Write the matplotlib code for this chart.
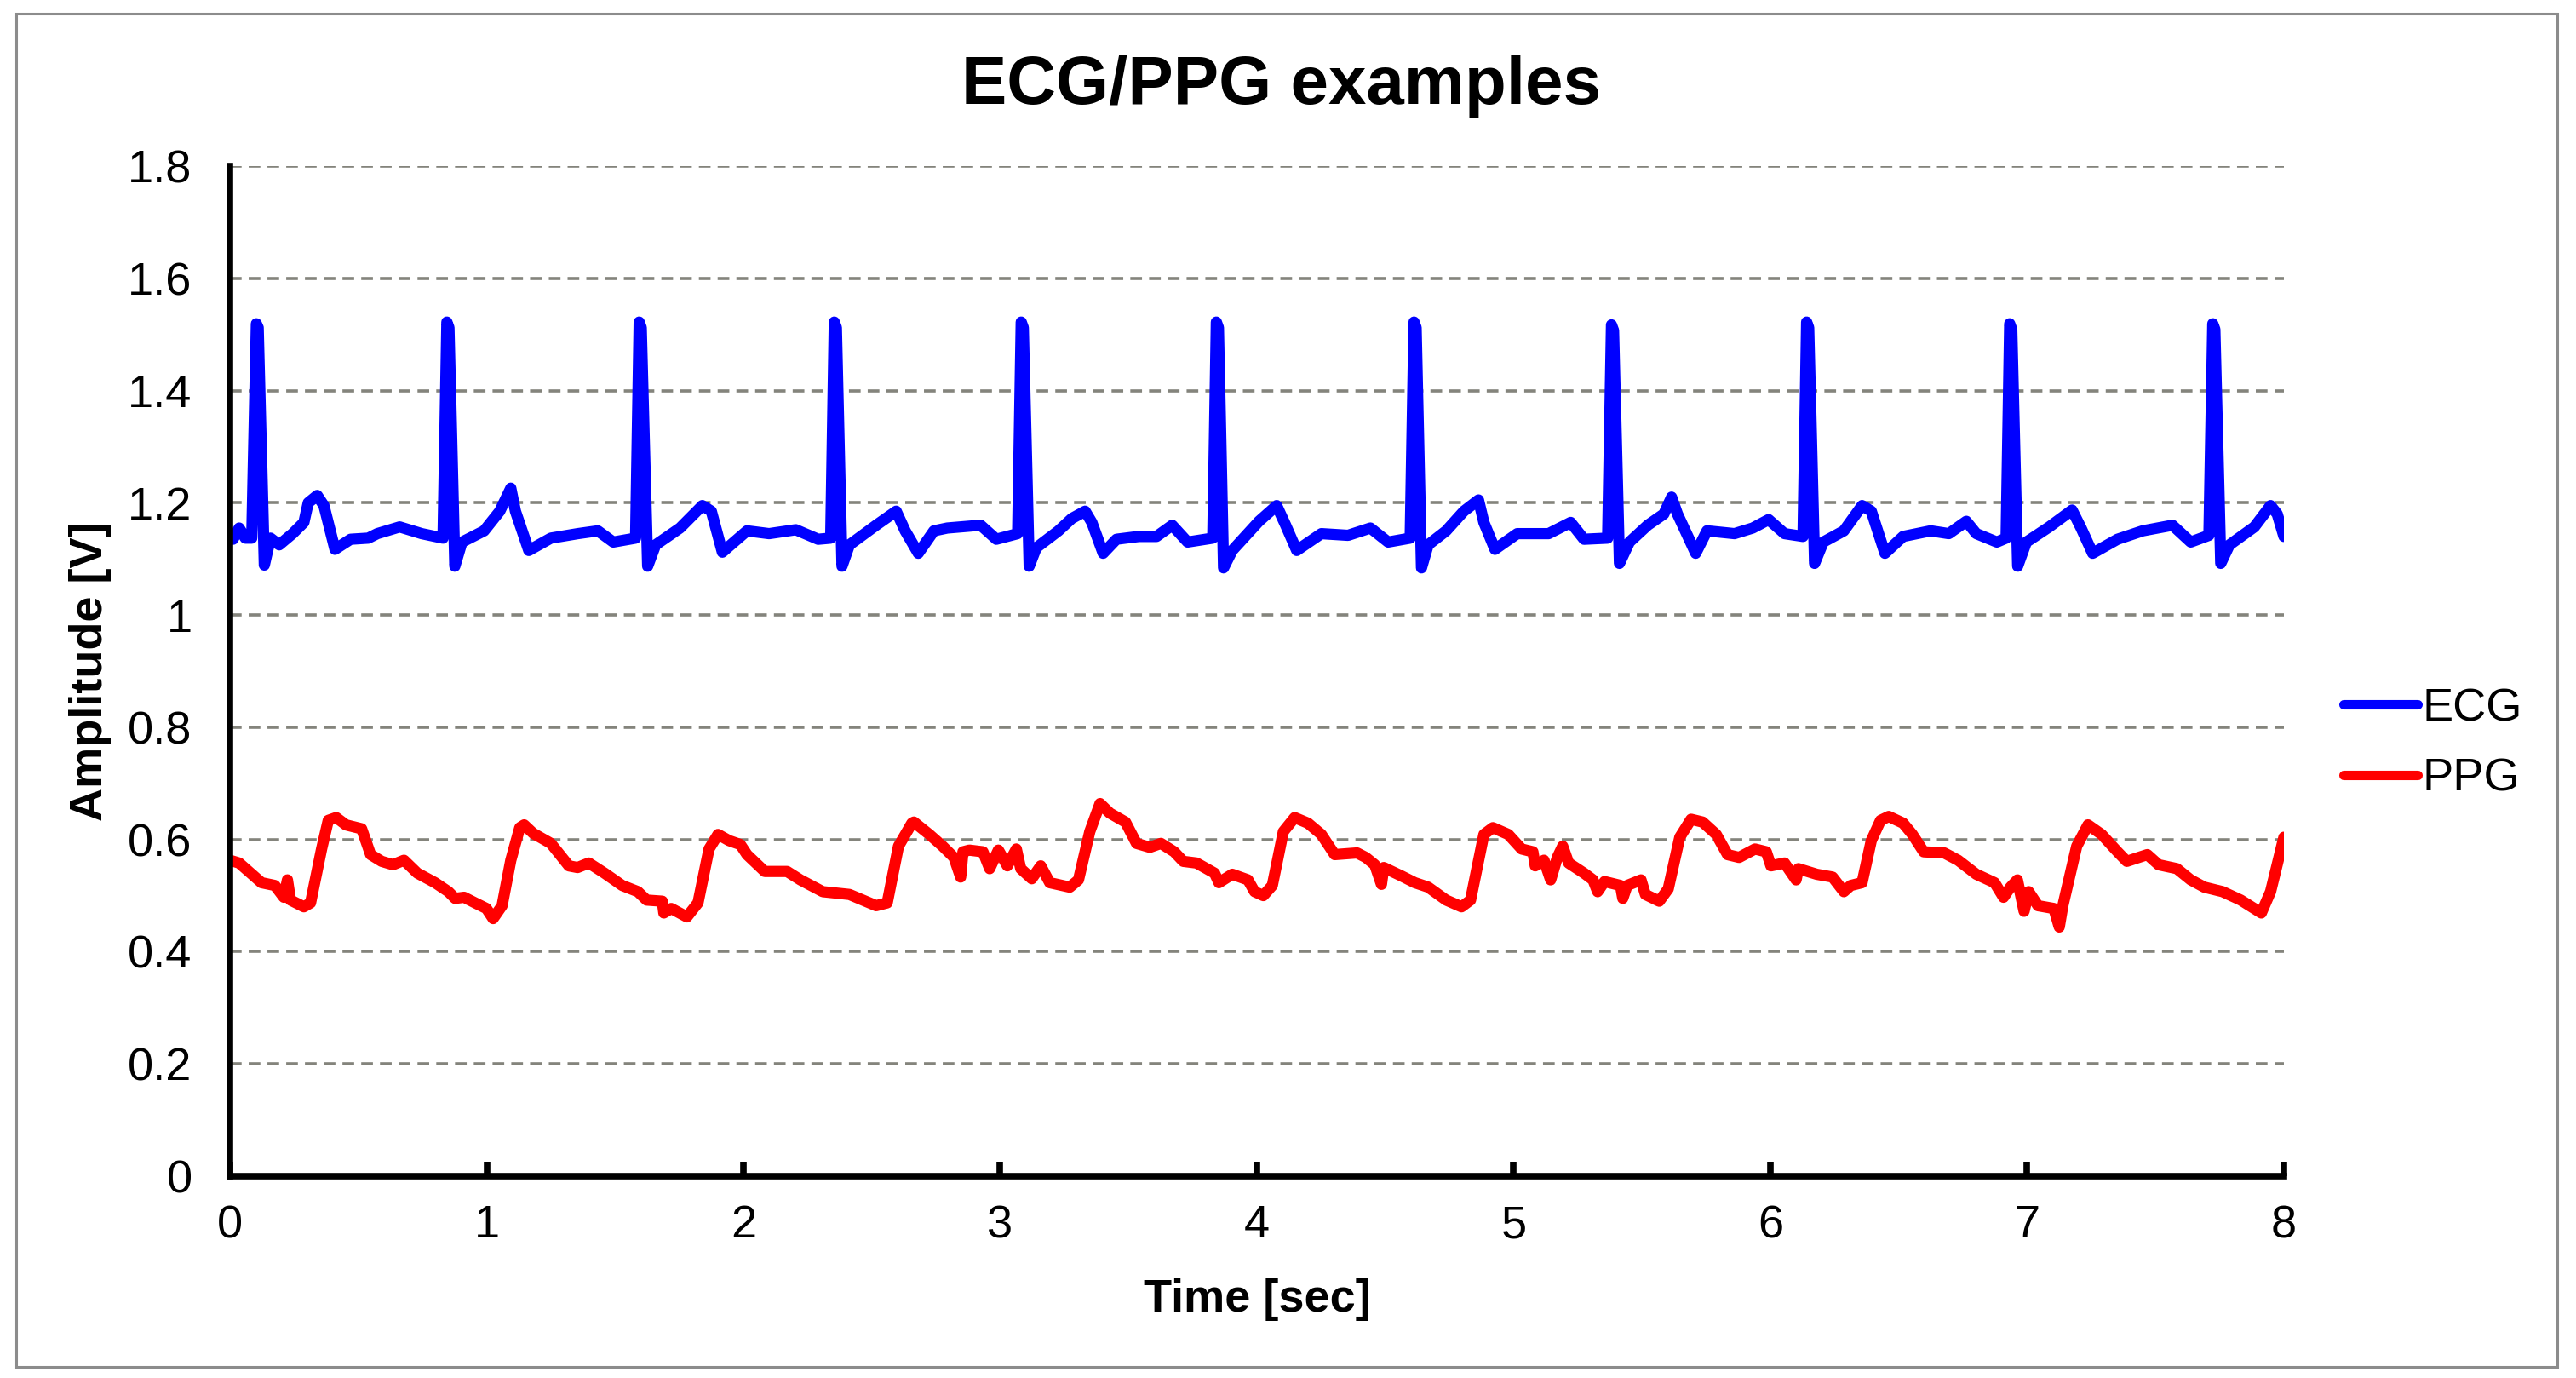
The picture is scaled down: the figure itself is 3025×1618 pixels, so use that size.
import matplotlib
matplotlib.use('Agg')
from matplotlib import pyplot as plt
from matplotlib.patches import Rectangle

plt.rcParams['font.family'] = ['Liberation Sans', 'DejaVu Sans']

# values (time in sec, amplitude in V)
ecg_t = [0.000, 0.012, 0.036, 0.060, 0.085, 0.103, 0.110, 0.134, 0.158, 0.192,
         0.244, 0.288, 0.305, 0.340, 0.366, 0.409, 0.470, 0.539, 0.574, 0.661,
         0.747, 0.830, 0.845, 0.853, 0.876, 0.904, 0.990, 1.051, 1.094, 1.112,
         1.164, 1.250, 1.355, 1.433, 1.493, 1.580, 1.594, 1.602, 1.627, 1.658,
         1.753, 1.840, 1.875, 1.918, 2.014, 2.100, 2.204, 2.291, 2.340, 2.354,
         2.362, 2.384, 2.413, 2.517, 2.595, 2.630, 2.681, 2.742, 2.794, 2.924,
         2.985, 3.068, 3.082, 3.090, 3.113, 3.141, 3.227, 3.279, 3.331, 3.357,
         3.401, 3.453, 3.540, 3.609, 3.670, 3.730, 3.828, 3.842, 3.850, 3.870,
         3.904, 4.008, 4.077, 4.112, 4.155, 4.251, 4.355, 4.442, 4.511, 4.597,
         4.612, 4.620, 4.641, 4.667, 4.737, 4.806, 4.863, 4.884, 4.927, 5.014,
         5.136, 5.222, 5.274, 5.366, 5.381, 5.389, 5.412, 5.451, 5.522, 5.585,
         5.615, 5.638, 5.709, 5.753, 5.860, 5.931, 5.993, 6.055, 6.127, 6.141,
         6.149, 6.172, 6.206, 6.286, 6.357, 6.393, 6.446, 6.517, 6.624, 6.695,
         6.763, 6.802, 6.882, 6.918, 6.932, 6.940, 6.963, 6.997, 7.086, 7.175,
         7.210, 7.255, 7.352, 7.450, 7.566, 7.637, 7.708, 7.723, 7.731, 7.754,
         7.788, 7.885, 7.948, 7.974, 8.000]
ecg_v = [1.145, 1.135, 1.155, 1.137, 1.137, 1.519, 1.512, 1.089, 1.137, 1.125,
         1.145, 1.165, 1.200, 1.213, 1.195, 1.117, 1.135, 1.137, 1.145, 1.157,
         1.145, 1.137, 1.522, 1.512, 1.087, 1.130, 1.150, 1.185, 1.226, 1.185,
         1.115, 1.137, 1.145, 1.150, 1.130, 1.137, 1.522, 1.512, 1.087, 1.125,
         1.155, 1.195, 1.185, 1.112, 1.150, 1.145, 1.152, 1.135, 1.137, 1.522,
         1.512, 1.087, 1.125, 1.160, 1.185, 1.150, 1.110, 1.150, 1.155, 1.160,
         1.135, 1.145, 1.522, 1.512, 1.087, 1.120, 1.150, 1.172, 1.185, 1.165,
         1.110, 1.135, 1.140, 1.140, 1.160, 1.130, 1.137, 1.522, 1.512, 1.084,
         1.115, 1.167, 1.195, 1.160, 1.115, 1.145, 1.142, 1.155, 1.130, 1.137,
         1.522, 1.512, 1.084, 1.125, 1.150, 1.185, 1.205, 1.165, 1.117, 1.145,
         1.145, 1.165, 1.135, 1.137, 1.517, 1.507, 1.092, 1.130, 1.160, 1.180,
         1.210, 1.180, 1.110, 1.150, 1.145, 1.155, 1.170, 1.145, 1.140, 1.522,
         1.512, 1.092, 1.130, 1.150, 1.195, 1.185, 1.110, 1.140, 1.150, 1.145,
         1.167, 1.145, 1.130, 1.137, 1.519, 1.509, 1.087, 1.130, 1.157, 1.187,
         1.155, 1.110, 1.135, 1.150, 1.160, 1.130, 1.142, 1.519, 1.509, 1.092,
         1.125, 1.157, 1.195, 1.180, 1.140]

ppg_t = [0.000, 0.036, 0.123, 0.175, 0.210, 0.224, 0.236, 0.288, 0.314, 0.357,
         0.383, 0.414, 0.452, 0.513, 0.548, 0.591, 0.635, 0.678, 0.730, 0.799,
         0.851, 0.877, 0.912, 0.955, 0.999, 1.025, 1.060, 1.094, 1.129, 1.146,
         1.181, 1.250, 1.320, 1.354, 1.398, 1.459, 1.528, 1.589, 1.623, 1.684,
         1.690, 1.719, 1.780, 1.823, 1.866, 1.901, 1.944, 1.988, 2.014, 2.083,
         2.170, 2.222, 2.309, 2.413, 2.465, 2.517, 2.560, 2.604, 2.656, 2.664,
         2.724, 2.776, 2.820, 2.846, 2.855, 2.880, 2.933, 2.959, 2.993, 3.028,
         3.063, 3.080, 3.123, 3.158, 3.193, 3.271, 3.305, 3.349, 3.389, 3.427,
         3.488, 3.531, 3.583, 3.626, 3.678, 3.713, 3.765, 3.835, 3.852, 3.904,
         3.965, 3.991, 4.025, 4.060, 4.103, 4.147, 4.199, 4.251, 4.303, 4.390,
         4.424, 4.459, 4.485, 4.494, 4.563, 4.615, 4.667, 4.737, 4.797, 4.832,
         4.884, 4.919, 4.979, 5.031, 5.075, 5.084, 5.118, 5.144, 5.170, 5.191,
         5.214, 5.274, 5.309, 5.327, 5.354, 5.416, 5.425, 5.442, 5.496, 5.513,
         5.567, 5.602, 5.647, 5.691, 5.736, 5.789, 5.833, 5.878, 5.940, 5.984,
         6.002, 6.055, 6.100, 6.109, 6.180, 6.242, 6.286, 6.313, 6.357, 6.393,
         6.429, 6.461, 6.517, 6.553, 6.597, 6.677, 6.731, 6.802, 6.873, 6.908,
         6.935, 6.962, 6.988, 7.006, 7.042, 7.104, 7.125, 7.139, 7.193, 7.237,
         7.290, 7.352, 7.388, 7.468, 7.512, 7.583, 7.637, 7.690, 7.761, 7.832,
         7.912, 7.948, 8.000]
ppg_v = [0.563, 0.558, 0.523, 0.518, 0.497, 0.528, 0.492, 0.480, 0.487, 0.583,
         0.634, 0.639, 0.626, 0.619, 0.573, 0.561, 0.555, 0.563, 0.540, 0.523,
         0.507, 0.495, 0.497, 0.487, 0.477, 0.459, 0.482, 0.563, 0.621, 0.626,
         0.611, 0.593, 0.553, 0.550, 0.558, 0.540, 0.518, 0.507, 0.492, 0.490,
         0.469, 0.477, 0.462, 0.487, 0.583, 0.609, 0.598, 0.591, 0.573, 0.543,
         0.543, 0.528, 0.507, 0.502, 0.492, 0.482, 0.487, 0.588, 0.629, 0.631,
         0.609, 0.588, 0.568, 0.533, 0.578, 0.581, 0.578, 0.548, 0.581, 0.553,
         0.583, 0.548, 0.530, 0.553, 0.523, 0.515, 0.528, 0.614, 0.664, 0.647,
         0.631, 0.593, 0.586, 0.593, 0.578, 0.561, 0.558, 0.540, 0.523, 0.538,
         0.528, 0.507, 0.500, 0.518, 0.614, 0.639, 0.629, 0.609, 0.573, 0.576,
         0.568, 0.555, 0.520, 0.550, 0.535, 0.523, 0.515, 0.492, 0.480, 0.492,
         0.609, 0.621, 0.609, 0.583, 0.578, 0.553, 0.563, 0.528, 0.568, 0.588,
         0.558, 0.540, 0.528, 0.507, 0.525, 0.518, 0.495, 0.518, 0.528, 0.502,
         0.490, 0.512, 0.604, 0.636, 0.631, 0.609, 0.573, 0.568, 0.583, 0.578,
         0.553, 0.558, 0.528, 0.548, 0.538, 0.533, 0.507, 0.518, 0.523, 0.598,
         0.634, 0.641, 0.629, 0.609, 0.578, 0.576, 0.563, 0.538, 0.523, 0.497,
         0.515, 0.528, 0.472, 0.507, 0.482, 0.477, 0.444, 0.482, 0.588, 0.626,
         0.609, 0.578, 0.561, 0.573, 0.555, 0.548, 0.528, 0.515, 0.507, 0.492,
         0.469, 0.507, 0.604]

x_ticks = [0, 1, 2, 3, 4, 5, 6, 7, 8]
y_ticks = [0, 0.2, 0.4, 0.6, 0.8, 1.0, 1.2, 1.4, 1.6, 1.8]
y_tick_labels = ["0", "0.2", "0.4", "0.6", "0.8", "1", "1.2", "1.4", "1.6", "1.8"]

W, H = 3025, 1618
fig = plt.figure(figsize=(W / 100, H / 100), dpi=100)
ax = fig.add_axes([270 / W, 1 - 1381 / H, (2682 - 270) / W, (1381 - 195) / H])

ax.plot(ecg_t, ecg_v, color='#0000ff', lw=9.5, label='ECG',
        solid_joinstyle='round', solid_capstyle='round')
ax.plot(ppg_t, ppg_v, color='#ff0000', lw=9.5, label='PPG',
        solid_joinstyle='round', solid_capstyle='round')

ax.set_xlim(0, 8)
ax.set_ylim(0, 1.8)
ax.set_xticks(x_ticks)
ax.set_yticks(y_ticks)
ax.set_yticklabels(y_tick_labels)

ax.set_axisbelow(True)
ax.yaxis.grid(True, color='#84847c', linestyle=(0, (3.8, 2.3)), linewidth=2.6)

for s in ['top', 'right']:
    ax.spines[s].set_visible(False)
for s in ['left', 'bottom']:
    ax.spines[s].set_linewidth(5.5)
    ax.spines[s].set_color('black')

ax.tick_params(axis='x', direction='in', length=12, width=5.5, labelsize=39, pad=24)
ax.tick_params(axis='y', length=0, labelsize=39, pad=32)

ax.set_xlabel("Time [sec]", fontsize=39, fontweight='bold')
ax.xaxis.set_label_coords(0.5, -0.101)
ax.set_ylabel("Amplitude [V]", fontsize=39, fontweight='bold')
ax.yaxis.set_label_coords(-0.0576, 0.5)

fig.text(0.4975, 1 - 122 / H, "ECG/PPG examples", ha='center', va='baseline',
         fontsize=57.5, fontweight='bold')

leg = ax.legend(loc='center left', bbox_to_anchor=(2752 / W, 1 - 873.5 / H),
                bbox_transform=fig.transFigure, frameon=False, fontsize=39,
                handlelength=1.6, handletextpad=0.1, labelspacing=0.6,
                borderpad=0, borderaxespad=0)
for line in leg.get_lines():
    line.set_linewidth(8)

fig.patches.append(Rectangle((19 / W, 1 - 1605 / H), (3003 - 19) / W, (1605 - 16) / H,
                             transform=fig.transFigure, fill=False,
                             edgecolor='#8c8c8c', lw=2.2))

fig.savefig('out.png', dpi=100)
